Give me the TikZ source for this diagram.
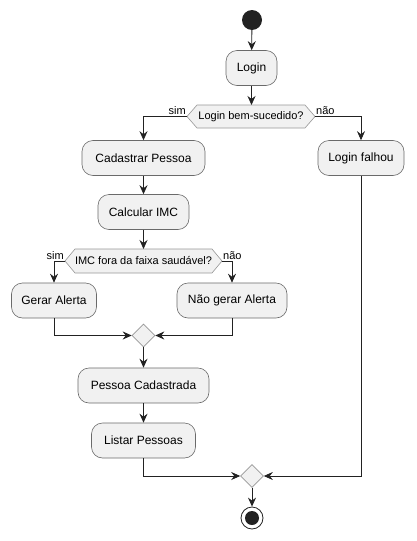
\documentclass[tikz,border=0pt]{standalone}
\usepackage{fontspec}
\setmainfont{Liberation Sans}
\usetikzlibrary{arrows.meta, shapes.geometric}
\definecolor{boxfill}{HTML}{F1F1F1}
\definecolor{boxline}{HTML}{6A6A6A}
\definecolor{flowline}{HTML}{222222}

\begin{document}
\begin{tikzpicture}[x=1pt, y=-1pt,
    action/.style={draw=boxline, fill=boxfill, line width=0.6pt, rounded corners=11pt,
      minimum height=35pt, inner sep=0pt, font=\fontsize{12}{14}\selectfont},
    merge/.style={diamond, draw=boxline!70, fill=boxfill, line width=0.6pt,
      minimum width=23pt, minimum height=23pt, inner sep=0pt},
    choice/.style={draw=boxline!70, fill=boxfill, line width=0.6pt},
    guard/.style={font=\fontsize{11}{13}\selectfont, inner sep=1pt},
    flow/.style={-{Stealth[length=9pt, width=8pt, inset=3pt]}, draw=flowline, line width=0.8pt}]
            \useasboundingbox (0, 0) rectangle (416, 541);

            \node (start) at (252, 20) [circle, fill=flowline, minimum size=20pt, inner sep=0pt] {};
            \node (login) at (251.5, 68) [action, minimum width=51pt] {Login};

            \draw [choice] (187, 116.5) -- (197, 105) -- (305, 105) -- (315, 116.5)
                           -- (305, 128) -- (197, 128) -- cycle;
            \node (d1) at (251, 116.5) [guard] {Login bem-sucedido?};
            \coordinate (d1n) at (251.5, 105);
            \coordinate (d1w) at (187, 116.5);
            \coordinate (d1e) at (315, 116.5);
            \node[guard, anchor=south east] at (187, 116) {sim};
            \node[guard, anchor=south west] at (315, 116) {não};

            \node (cad) at (143.5, 158) [action, minimum width=123pt] {Cadastrar Pessoa};
            \node (fail) at (361, 158) [action, minimum width=86pt] {Login falhou};
            \node (imc) at (143.5, 212) [action, minimum width=91pt] {Calcular IMC};

            \draw [choice] (65, 261) -- (75, 249) -- (212, 249) -- (222, 261)
                           -- (212, 273) -- (75, 273) -- cycle;
            \node (d2) at (143.5, 261) [guard] {IMC fora da faixa saudável?};
            \coordinate (d2n) at (143.5, 249);
            \coordinate (d2w) at (65, 261);
            \coordinate (d2e) at (222, 261);
            \node[guard, anchor=south east] at (65, 260.5) {sim};
            \node[guard, anchor=south west] at (222, 260.5) {não};

            \node (alert) at (54, 300.5) [action, minimum width=85pt] {Gerar Alerta};
            \node (noalert) at (232, 300.5) [action, minimum width=110pt] {Não gerar Alerta};
            \node (m1) at (143.5, 335.5) [merge] {};

            \node (pc) at (143.5, 385.5) [action, minimum width=131pt] {Pessoa Cadastrada};
            \node (lp) at (143.5, 440.5) [action, minimum width=104pt] {Listar Pessoas};
            \node (m2) at (252, 476) [merge] {};
            \node (stop) at (252, 518) [circle, draw=flowline, fill=white, line width=0.8pt,
                                         minimum size=22pt, inner sep=0pt] {};
            \node at (252, 518) [circle, fill=flowline, minimum size=14pt, inner sep=0pt] {};

            \draw [flow] (start) -- (login);
            \draw [flow] (login) -- (d1n);
            \draw [flow] (d1w) -| (cad);
            \draw [flow] (d1e) -| (fail);
            \draw [flow] (cad) -- (imc);
            \draw [flow] (imc) -- (d2n);
            \draw [flow] (d2w) -| (alert);
            \draw [flow] (d2e) -| (noalert);
            \draw [flow] (alert) |- (m1);
            \draw [flow] (noalert) |- (m1);
            \draw [flow] (m1) -- (pc);
            \draw [flow] (pc) -- (lp);
            \draw [flow] (lp) |- (m2);
            \draw [flow] (fail) |- (m2);
            \draw [flow] (m2) -- (stop);
\end{tikzpicture}
\end{document}
